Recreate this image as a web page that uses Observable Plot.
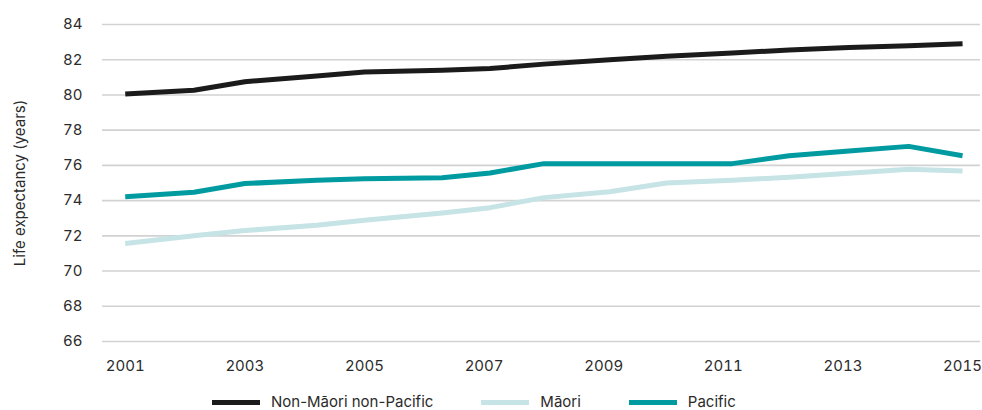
<!DOCTYPE html>
<html>
<head>
<meta charset="utf-8">
<script src="https://cdn.jsdelivr.net/npm/d3@7"></script>
<script src="https://cdn.jsdelivr.net/npm/@observablehq/plot@0.6"></script>
<style>
  html, body { margin: 0; padding: 0; background: #fff; }
  body { width: 982px; height: 410px; font-family: Inter, "Noto Sans", sans-serif; }
  #chart svg { display: block; }
  #legend { display: flex; align-items: center; margin-left: 212px; margin-top: 7px; height: 16px; line-height: 16px; font-size: 15px; color: #2b2b2b; }
  .item { display: flex; align-items: center; margin-right: 48px; }
  .sw { width: 48px; height: 5px; margin-right: 11px; }
</style>
</head>
<body>
<div id="chart"></div>
<div id="legend"></div>
<script>
// Time points (decimal years as plotted)
const years = [2001, 2002.15, 2003, 2004.2, 2005, 2006.3, 2007.1, 2008, 2009.1, 2010.05, 2011.15, 2012.1, 2013.1, 2014.1, 2015];
const nonMaoriNonPacific = [80.05, 80.27, 80.75, 81.08, 81.3, 81.4, 81.5, 81.75, 82.0, 82.2, 82.38, 82.55, 82.7, 82.8, 82.9];
const maori = [71.57, 72.0, 72.3, 72.6, 72.88, 73.3, 73.6, 74.17, 74.5, 75.0, 75.15, 75.33, 75.55, 75.78, 75.68];
const pacific = [74.22, 74.47, 74.97, 75.15, 75.24, 75.3, 75.57, 76.1, 76.1, 76.1, 76.1, 76.55, 76.82, 77.08, 76.55];
const seriesNames = ["Non-Māori non-Pacific", "Māori", "Pacific"];
const seriesColors = ["#1b1b1b", "#c6e3e6", "#009ba0"];
const xTicks = [2001, 2003, 2005, 2007, 2009, 2011, 2013, 2015];
const yTicks = [66, 68, 70, 72, 74, 76, 78, 80, 82, 84];
const yLabel = "Life expectancy (years)";

const seriesValues = [nonMaoriNonPacific, maori, pacific];
const data = [];
seriesNames.forEach((name, i) => {
  years.forEach((yr, j) => data.push({series: name, year: yr, value: seriesValues[i][j]}));
});

const chart = Plot.plot({
  width: 982,
  height: 387,
  marginLeft: 102,
  marginRight: 2,
  marginTop: 24,
  marginBottom: 46,
  style: {fontFamily: "Inter, 'Noto Sans', sans-serif", fontSize: "15px", color: "#2b2b2b", background: "#fff"},
  x: {domain: [2000.62, 2015.3]},
  y: {domain: [66, 84]},
  color: {domain: seriesNames, range: seriesColors},
  marks: [
    Plot.gridY(yTicks, {stroke: "#d2d2d2", strokeOpacity: 1, strokeWidth: 1.6}),
    Plot.axisY(yTicks, {tickSize: 0, tickPadding: 20, label: yLabel, labelAnchor: "center", labelArrow: "none", labelOffset: 88, fontSize: 15}),
    Plot.axisX(xTicks, {tickSize: 0, tickPadding: 19, tickFormat: d => String(d), label: null, fontSize: 15}),
    Plot.line(data, {x: "year", y: "value", z: "series", stroke: "series", strokeWidth: 5, strokeLinecap: "butt", strokeLinejoin: "round"})
  ]
});
document.getElementById("chart").appendChild(chart);

const legend = document.getElementById("legend");
seriesNames.forEach((name, i) => {
  const item = document.createElement("div");
  item.className = "item";
  const sw = document.createElement("div");
  sw.className = "sw";
  sw.style.background = seriesColors[i];
  const t = document.createElement("span");
  t.textContent = name;
  item.appendChild(sw);
  item.appendChild(t);
  legend.appendChild(item);
});
</script>
</body>
</html>
